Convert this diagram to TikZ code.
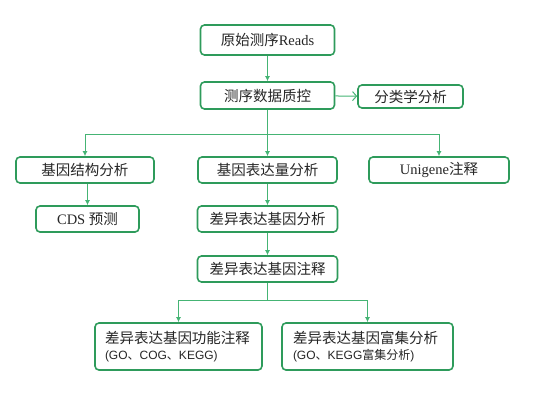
\documentclass[tikz,border=0pt]{standalone}
\usepackage{fontspec}
\setmainfont{Liberation Serif}
\newfontfamily\cjk{Noto Sans CJK SC}
\newfontfamily\arl{Liberation Sans}
\usepackage{xcolor}
\usepackage{tikz}
\usetikzlibrary{arrows.meta,positioning}
\definecolor{boxc}{HTML}{2E9B5B}
\definecolor{linec}{HTML}{45B474}
\definecolor{txtc}{HTML}{262626}
\tikzset{
  ar/.style={-{Latex[length=5pt,width=5pt]},line width=1pt,linec},
  arb/.style={-{Straight Barb[length=4pt,width=9pt]},line width=1pt,linec},
  ln/.style={line width=1pt,linec},
  box/.style={draw=boxc,line width=1.6pt,rounded corners=4pt,fill=white,inner sep=2pt,
    minimum height=27pt,text=txtc,font=\fontsize{14.5}{17}\selectfont},
  wbox/.style={box,align=left,inner xsep=10pt,minimum height=47pt}
}
\begin{document}
\begin{tikzpicture}[x=1pt,y=-1pt]
\useasboundingbox (0,0) rectangle (555,416);
\node[box,minimum width=134pt,minimum height=30pt] (raw) at (267.5,40) {{\cjk 原始测序}Reads};
\node[box,minimum width=134pt] (qc) at (267.5,95.5) {\cjk 测序数据质控};
\node[box,minimum width=105pt,minimum height=23pt] (tax) at (410.5,96.5) {\cjk 分类学分析};
\node[box,minimum width=138pt,minimum height=26pt] (struct) at (85,170) {\cjk 基因结构分析};
\node[box,minimum width=139pt,minimum height=26pt] (expr) at (267.5,170) {\cjk 基因表达量分析};
\node[box,minimum width=140pt,minimum height=26pt] (uni) at (439,170) {Unigene{\cjk 注释}};
\node[box,minimum width=103pt,minimum height=26pt] (cds) at (87.5,219) {CDS {\cjk 预测}};
\node[box,minimum width=140pt,minimum height=26pt] (deg) at (267.5,219) {\cjk 差异表达基因分析};
\node[box,minimum width=140pt,minimum height=26pt] (anno) at (267.5,269) {\cjk 差异表达基因注释};
\node[wbox,text width=147pt] (func) at (178.5,346.5) {{\cjk 差异表达基因功能注释}\\[-1pt]
  {\fontsize{12}{14}\selectfont\arl (GO{\cjk 、}COG{\cjk 、}KEGG)}};
\node[wbox,text width=149pt,inner xsep=11pt] (enr) at (367.5,346.5) {{\cjk 差异表达基因富集分析}\\[-1pt]
  {\fontsize{12}{14}\selectfont\arl (GO{\cjk 、}KEGG{\cjk 富集分析})}};
\coordinate (b1) at (267.5,134);
\coordinate (b2) at (267.5,300);
\draw[ar] (raw) -- (qc);
\draw[arb] (qc) -- (tax);
\draw[ar] (qc) -- (expr);
\draw[ar] (b1) -| (struct);
\draw[ar] (b1) -| (uni);
\draw[ar] (struct.south -| cds.north) -- (cds);
\draw[ar] (expr) -- (deg);
\draw[ar] (deg) -- (anno);
\draw[ln] (anno) -- (b2);
\draw[ar] (b2) -| (func);
\draw[ar] (b2) -| (enr);
\end{tikzpicture}
\end{document}
